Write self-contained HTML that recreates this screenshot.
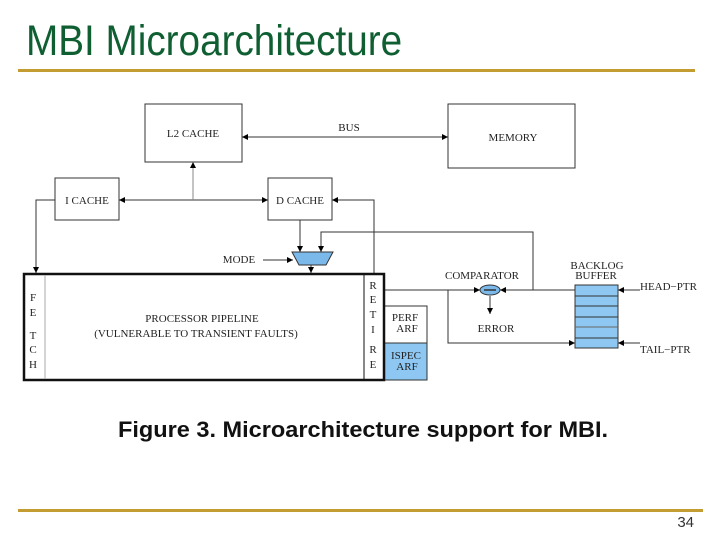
<!DOCTYPE html>
<html><head><meta charset="utf-8"><style>
html,body{margin:0;padding:0;background:#fff;width:720px;height:540px;overflow:hidden}
svg{display:block}
</style></head><body>
<svg width="720" height="540" viewBox="0 0 720 540" xmlns="http://www.w3.org/2000/svg">
<defs>
<marker id="a" viewBox="0 0 10 10" refX="10" refY="5" markerWidth="8" markerHeight="6" orient="auto-start-reverse" markerUnits="userSpaceOnUse"><path d="M0,0 L10,5 L0,10 z" fill="#000"/></marker>
</defs>
<text x="26" y="55" font-family="Liberation Sans, sans-serif" font-size="43" fill="#0f5f32" transform="translate(26 0) scale(0.9 1) translate(-26 0)">MBI Microarchitecture</text>
<rect x="18" y="69" width="677" height="3" fill="#c39d32"/>
<rect x="18" y="509" width="685" height="3" fill="#c39d32"/>
<text x="694" y="527" text-anchor="end" font-family="Liberation Sans, sans-serif" font-size="15" fill="#333">34</text>
<text x="118" y="437" font-family="Liberation Sans, sans-serif" font-weight="bold" font-size="22" fill="#111" transform="translate(118 0) scale(1.07 1) translate(-118 0)">Figure 3. Microarchitecture support for MBI.</text>

<g font-family="Liberation Serif, serif" font-size="11" fill="#222" stroke="none">
<g fill="none" stroke="#333" stroke-width="1">
<rect x="145" y="104" width="97" height="58"/>
<rect x="448" y="104" width="127" height="64"/>
<rect x="55" y="178" width="64" height="42"/>
<rect x="268" y="178" width="64" height="42"/>
<line x1="242" y1="137" x2="448" y2="137" marker-start="url(#a)" marker-end="url(#a)"/>
<line x1="119" y1="200" x2="268" y2="200" marker-start="url(#a)" marker-end="url(#a)"/>
<line x1="193" y1="200" x2="193" y2="162" marker-end="url(#a)" stroke="#888"/>
<polyline points="55,200 36,200 36,273" marker-end="url(#a)"/>
<polyline points="374,273 374,200 332,200" marker-end="url(#a)"/>
<line x1="300" y1="220" x2="300" y2="252" marker-end="url(#a)"/>
<polyline points="533,290 533,232 321,232 321,252" marker-end="url(#a)"/>
<line x1="263" y1="260" x2="293" y2="260" marker-end="url(#a)"/>
<line x1="311" y1="265" x2="311" y2="273" marker-end="url(#a)"/>
<line x1="384" y1="290" x2="480" y2="290" marker-end="url(#a)"/>
<line x1="575" y1="290" x2="500" y2="290" marker-end="url(#a)"/>
<polyline points="448,290 448,343 575,343" marker-end="url(#a)"/>
<line x1="490" y1="296" x2="490" y2="314" marker-end="url(#a)"/>
<line x1="640" y1="290" x2="618" y2="290" marker-end="url(#a)"/>
<line x1="640" y1="343" x2="618" y2="343" marker-end="url(#a)"/>
</g>
<polygon points="292,252 333,252 326,265 299,265" fill="#7ab9ea" stroke="#333"/>
<ellipse cx="490" cy="290" rx="10" ry="5" fill="#7ab9ea" stroke="#333"/>
<line x1="484" y1="290" x2="496" y2="290" stroke="#333" stroke-width="1.5"/>
<rect x="575" y="285" width="43" height="63" fill="#8ec8f2" stroke="#333"/>
<g stroke="#333"><line x1="575" y1="296" x2="618" y2="296"/><line x1="575" y1="306" x2="618" y2="306"/><line x1="575" y1="317" x2="618" y2="317"/><line x1="575" y1="327" x2="618" y2="327" stroke="#666"/><line x1="575" y1="338" x2="618" y2="338"/></g>
<rect x="384" y="306" width="43" height="74" fill="#fff" stroke="#333"/>
<rect x="384" y="343" width="43" height="37" fill="#8ec8f2" stroke="#333"/>
<rect x="24" y="274" width="360" height="106" fill="none" stroke="#111" stroke-width="2.5"/>
<line x1="45" y1="275" x2="45" y2="379" stroke="#aaa"/>
<line x1="364" y1="275" x2="364" y2="379" stroke="#111"/>

<text x="193" y="137" text-anchor="middle">L2 CACHE</text>
<text x="349" y="131" text-anchor="middle">BUS</text>
<text x="513" y="141" text-anchor="middle">MEMORY</text>
<text x="87" y="204" text-anchor="middle">I CACHE</text>
<text x="300" y="204" text-anchor="middle">D CACHE</text>
<text x="239" y="263" text-anchor="middle">MODE</text>
<text x="202" y="322" text-anchor="middle">PROCESSOR  PIPELINE</text>
<text x="196" y="337" text-anchor="middle">(VULNERABLE TO TRANSIENT FAULTS)</text>
<g text-anchor="middle"><text x="33" y="301">F</text><text x="33" y="316">E</text><text x="33" y="339">T</text><text x="33" y="353">C</text><text x="33" y="368">H</text>
<text x="373" y="289">R</text><text x="373" y="303">E</text><text x="373" y="318">T</text><text x="373" y="333">I</text><text x="373" y="353">R</text><text x="373" y="368">E</text></g>
<text x="405" y="321" text-anchor="middle">PERF</text><text x="407" y="332" text-anchor="middle">ARF</text>
<text x="406" y="359" text-anchor="middle">ISPEC</text><text x="407" y="370" text-anchor="middle">ARF</text>
<text x="482" y="279" text-anchor="middle">COMPARATOR</text>
<text x="496" y="332" text-anchor="middle">ERROR</text>
<text x="597" y="269" text-anchor="middle">BACKLOG</text>
<text x="596" y="279" text-anchor="middle">BUFFER</text>
<text x="640" y="290">HEAD−PTR</text>
<text x="640" y="353">TAIL−PTR</text>
</g>
</svg>
</body></html>
